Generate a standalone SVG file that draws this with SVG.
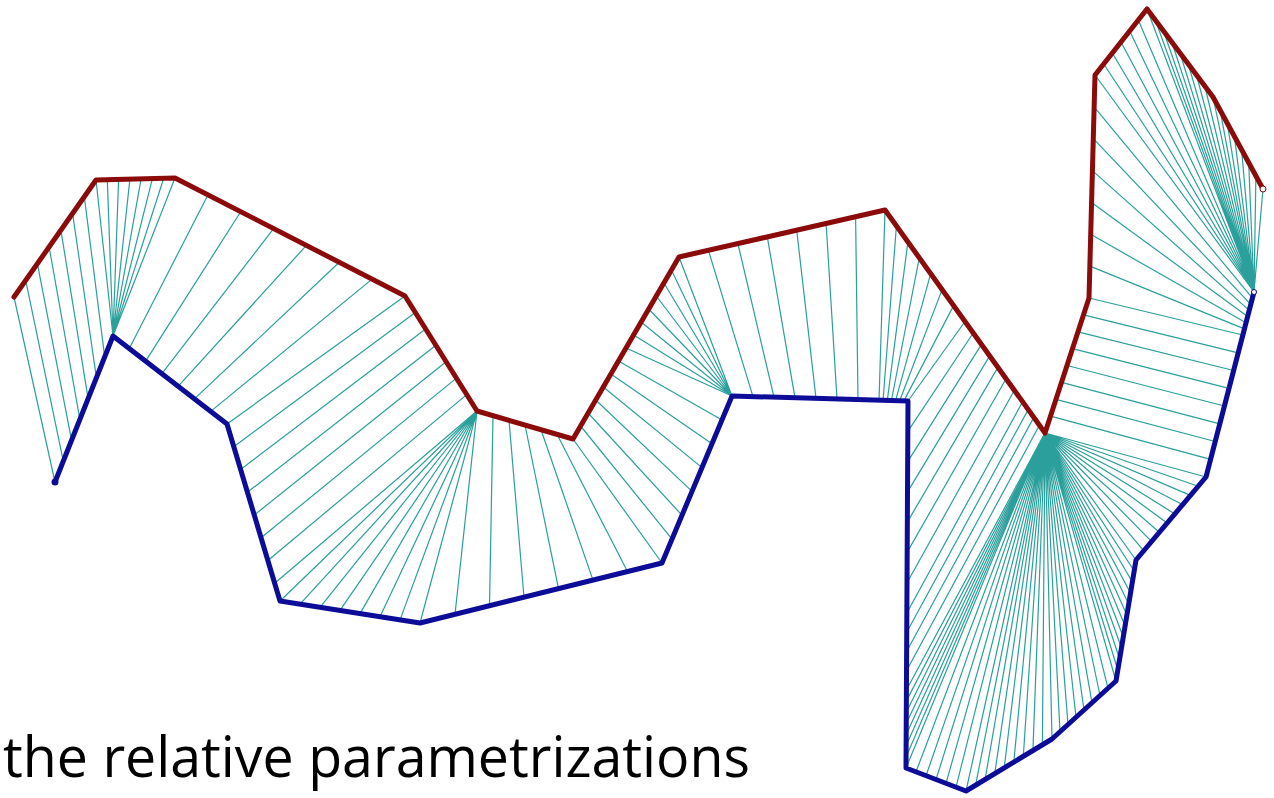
<svg xmlns="http://www.w3.org/2000/svg" width="1274" height="798" viewBox="0 0 1274 798">
<style>
.m{fill:none;stroke:#2a9f9b;stroke-width:1.2}
.r{fill:none;stroke:#8b0a0a;stroke-width:5;stroke-linejoin:round;stroke-linecap:round}
.b{fill:none;stroke:#0c0c98;stroke-width:5;stroke-linejoin:round;stroke-linecap:round}
.t{font-family:"Open Sans","Liberation Sans",sans-serif;font-size:56px;fill:#000}
</style>
<rect width="1274" height="798" fill="#fff"/>
<g id="connectors">
<path class="m" d="M14 297L55 482M25.7 280.3L63.3 461.1M37.4 263.6L71.6 440.3M49.1 246.9L79.9 419.4M60.9 230.1L88.1 398.6M72.6 213.4L96.4 377.7M84.3 196.7L104.7 356.9M96 180L113 336"/>
<path class="m" d="M107.3 179.7L113 336M118.6 179.4L113 336M129.9 179.1L113 336M141.1 178.9L113 336M152.4 178.6L113 336M163.7 178.3L113 336M175 178L113 336"/>
<path class="m" d="M207.9 194.9L129.3 348.6M240.7 211.7L145.6 361.1M273.6 228.6L161.9 373.7M306.4 245.4L178.1 386.3M339.3 262.3L194.4 398.9M372.1 279.1L210.7 411.4M405 296L227 424"/>
<path class="m" d="M415.3 312.4L233.8 446.8M425.6 328.9L240.6 469.5M435.9 345.3L247.4 492.3M446.1 361.7L254.3 515M456.4 378.1L261.1 537.8M466.7 394.6L267.9 560.5M477 411L274.7 583.3"/>
<path class="m" d="M477 411L280 601M477 411L300 604.1M477 411L320 607.3M477 411L340 610.4M477 411L360 613.6M477 411L380 616.7M477 411L400 619.9M477 411L420 623M477 411L455 614.3"/>
<path class="m" d="M493 415.7L489.5 605.8M509 420.3L524 597.2M525 425L558.5 588.7M541 429.7L593 580.1M557 434.3L627.5 571.6M573 439L662 563"/>
<path class="m" d="M580.6 426L672 539.1M588.1 413L682 515.3M595.7 400L692 491.4M603.3 387L702 467.6M610.9 374L712 443.7M618.4 361L722 419.9M626 348L732 396"/>
<path class="m" d="M633.6 335L732 396M641.1 322L732 396M648.7 309L732 396M656.3 296L732 396M663.9 283L732 396M671.4 270L732 396M679 257L732 396"/>
<path class="m" d="M708.4 250.3L753 396.6M737.9 243.6L774 397.2M767.3 236.9L795 397.8M796.7 230.1L816 398.4M826.1 223.4L837 399M855.6 216.7L858 399.6M885 210L879 400.2"/>
<path class="m" d="M896.4 225.9L883.1 400.3M907.9 241.9L887.3 400.4M919.3 257.8L891.4 400.5M930.7 273.7L895.6 400.7M942.1 289.6L899.7 400.8M953.6 305.6L903.9 400.9M965 321.5L908 401"/>
<path class="m" d="M973.2 333L907.8 431.3M981.5 344.4L907.7 461.6M989.7 355.9L907.5 491.9M997.9 367.4L907.3 522.1M1006.1 378.8L907.1 552.4M1014.4 390.3L907 582.7M1022.6 401.8L906.8 613"/>
<path class="m" d="M1028.2 409.6L906.7 632.3M1033.8 417.4L906.6 651.5M1039.4 425.2L906.5 670.8M1045 433L906.4 690"/>
<path class="m" d="M1045 433L906.3 701.1M1045 433L906.3 712.3M1045 433L906.2 723.4M1045 433L906.2 734.6M1045 433L906.1 745.7M1045 433L906.1 756.9M1045 433L906 768M1045 433L916 771.8M1045 433L926 775.7M1045 433L936 779.5M1045 433L946 783.3M1045 433L956 787.2M1045 433L966 791M1045 433L975.6 785.2M1045 433L985.1 779.4M1045 433L994.7 773.7M1045 433L1004.2 767.9M1045 433L1013.8 762.1M1045 433L1023.3 756.3M1045 433L1032.9 750.6M1045 433L1042.4 744.8M1045 433L1052 739M1045 433L1060 731.8M1045 433L1068 724.5M1045 433L1076 717.3M1045 433L1084 710M1045 433L1092 702.8M1045 433L1100 695.5M1045 433L1108 688.3M1045 433L1116 681M1045 433L1117.8 670M1045 433L1119.6 659M1045 433L1121.5 648M1045 433L1123.3 637M1045 433L1125.1 626M1045 433L1126.9 615M1045 433L1128.7 604M1045 433L1130.5 593M1045 433L1132.4 582M1045 433L1134.2 571M1045 433L1136 560M1045 433L1143.8 550.8M1045 433L1151.6 541.6M1045 433L1159.3 532.3M1045 433L1167.1 523.1M1045 433L1174.9 513.9M1045 433L1182.7 504.7M1045 433L1190.4 495.4M1045 433L1198.2 486.2M1045 433L1206 477"/>
<path class="m" d="M1050.5 416.1L1210.6 459.3M1056 399.3L1215.2 441.5M1061.5 382.4L1219.8 423.8M1067 365.5L1224.4 406M1072.5 348.6L1229 388.3M1078 331.8L1233.6 370.5M1083.5 314.9L1238.2 352.8M1089 298L1242.8 335"/>
<path class="m" d="M1089.9 266.1L1244.4 328.9M1090.7 234.3L1246 322.7M1091.6 202.4L1247.6 316.6M1092.4 170.6L1249.2 310.4M1093.3 138.7L1250.8 304.3M1094.1 106.9L1252.4 298.1M1095 75L1254 292"/>
<path class="m" d="M1103.7 64L1254 292M1112.3 53L1254 292M1121 42L1254 292M1129.7 31L1254 292M1138.3 20L1254 292M1147 9L1254 292M1155.3 20L1254 292M1163.5 31L1254 292M1171.8 42L1254 292M1180 53L1254 292M1188.3 64L1254 292M1196.5 75L1254 292M1204.8 86L1254 292M1213 97L1254 292M1220.1 110.1L1254 292M1227.3 123.3L1254 292M1234.4 136.4L1254 292M1241.6 149.6L1254 292M1248.7 162.7L1254 292M1255.9 175.9L1254 292M1263 189L1254 292"/>
</g>
<g id="curve-red">
<polyline class="r" points="14,297 96,180 175,178 405,296 477,411 573,439 679,257 885,210 1045,433 1089,298 1095,75 1147,9 1213,97 1263,189"/>
<circle cx="1263" cy="189" r="3" fill="#fff" stroke="#8b0a0a" stroke-width="1"/>
</g>
<g id="curve-blue">
<polyline class="b" points="55,482 113,336 227,424 280,601 420,623 662,563 732,396 908,401 906,768 966,791 1052,739 1116,681 1136,560 1206,477 1254,292"/>
<circle cx="55" cy="482" r="3.5" fill="#0c0c98"/>
<circle cx="1254" cy="292" r="2.5" fill="#fff" stroke="#0c0c98" stroke-width="1"/>
</g>
<g id="caption">
<text class="t" x="3" y="777" textLength="747" lengthAdjust="spacingAndGlyphs">the relative parametrizations</text>
</g>
</svg>
